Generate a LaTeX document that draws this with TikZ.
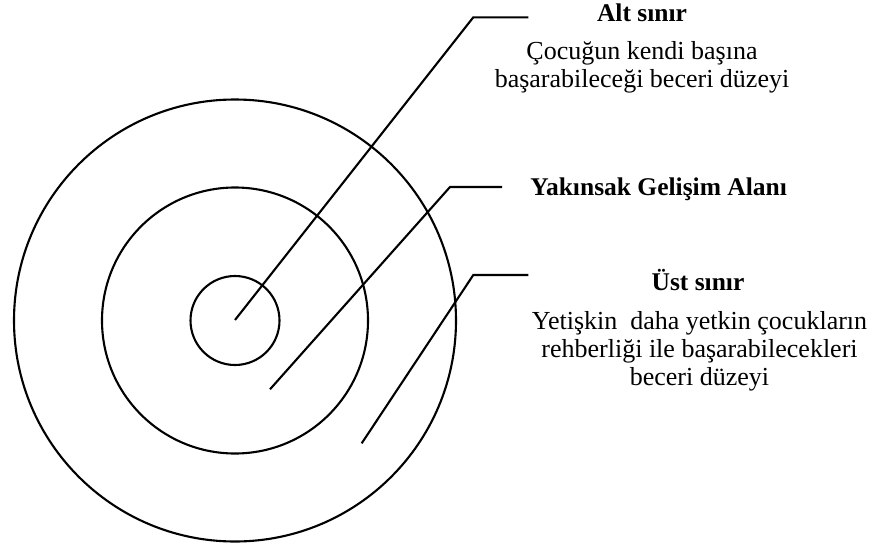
\documentclass[tikz,border=0pt]{standalone}
\usepackage{fontspec}
\setmainfont{Liberation Serif}
\begin{document}
\begin{tikzpicture}[x=1pt,y=-1pt,
  ring/.style={circle,draw,line width=2.1pt,inner sep=0pt},
  leader/.style={line width=2.1pt,line join=miter},
  ttl/.style={font=\fontsize{25.5}{28}\selectfont\bfseries,anchor=base,inner sep=0pt},
  txt/.style={font=\fontsize{26}{28}\selectfont,anchor=base,inner sep=0pt}]
\useasboundingbox (0,0) rectangle (881,549);
\coordinate (c) at (235,320.5);
\node[ring,minimum size=89pt] (inner) at (c) {};
\node[ring,minimum size=266pt] (middle) at (c) {};
\node[ring,minimum size=442pt] (outer) at (c) {};
% leader endpoints
\coordinate (a0) at (235,320);
\coordinate (a1) at (473.3,17.3);
\coordinate (a2) at (528.3,17.3);
\coordinate (b0) at (270,389.3);
\coordinate (b1) at (450,187);
\coordinate (b2) at (502,187);
\coordinate (u0) at (361.7,443.3);
\coordinate (u1) at (473.3,275);
\coordinate (u2) at (528.3,275);
\draw[leader] (a0) -- (a1) -- (a2);
\draw[leader] (b0) -- (b1) -- (b2);
\draw[leader] (u0) -- (u1) -- (u2);
% texts
\node[ttl] (alt) at (642,21.7) {Alt sınır};
\node[txt] (alt1) at (642,59) {Çocuğun kendi başına};
\node[txt] (alt2) at (642,87.5) {başarabileceği beceri düzeyi};
\node[ttl] (yak) at (658.7,195) {Yakınsak Gelişim Alanı};
\node[ttl] (ust) at (698,290.7) {Üst sınır};
\node[txt] (ust1) at (699.5,329.3) {Yetişkin\ \ daha yetkin çocukların};
\node[txt] (ust2) at (699.5,357) {rehberliği ile başarabilecekleri};
\node[txt] (ust3) at (699.5,385) {beceri düzeyi};
\end{tikzpicture}
\end{document}
